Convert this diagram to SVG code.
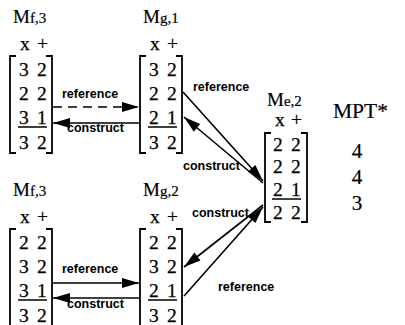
<svg xmlns="http://www.w3.org/2000/svg" width="405" height="325" viewBox="0 0 405 325">
<style>
.bk{fill:none;stroke:#000;stroke-width:1.8}
.num{font-family:"Liberation Serif","Times New Roman",serif;font-size:19.5px;fill:#000;stroke:#000;stroke-width:0.25}
.lab{font-family:"Liberation Serif","Times New Roman",serif;fill:#000;stroke:#000;stroke-width:0.2}
.ul{stroke:#000;stroke-width:1.5}
.arr{stroke:#000;stroke-width:1.6;fill:none;marker-end:url(#ah)}
.dash{stroke-dasharray:9,6}
.cap{font-family:"Liberation Sans",Arial,sans-serif;font-size:12.5px;font-weight:bold;fill:#000}
</style>
<defs>
<marker id="ah" markerUnits="userSpaceOnUse" markerWidth="19" markerHeight="11" refX="17" refY="5" orient="auto" overflow="visible">
<path d="M0,0 L17,5 L0,10 Z" fill="#000"/>
</marker>
</defs>
<rect width="405" height="325" fill="#fff"/>

<g id="mf3-top" transform="translate(10,56)">
<text class="lab" x="3" y="-33"><tspan font-size="19">M</tspan><tspan font-size="15">f,3</tspan></text>
<text class="num" x="10 27" y="-6">x+</text>
<path class="bk" d="M6,0 H0 V97 H6 M36,0 H42 V97 H36"/>
<text class="num" x="9 27" y="20">32</text>
<text class="num" x="9 27" y="44">22</text>
<text class="num" x="9 27" y="68">31</text>
<line class="ul" x1="8" y1="71" x2="37" y2="71"/>
<text class="num" x="9 27" y="93">32</text>
</g>

<g id="mg1" transform="translate(140,56)">
<text class="lab" x="3" y="-33"><tspan font-size="19">M</tspan><tspan font-size="15">g,1</tspan></text>
<text class="num" x="10 27" y="-6">x+</text>
<path class="bk" d="M6,0 H0 V97 H6 M36,0 H42 V97 H36"/>
<text class="num" x="9 27" y="20">32</text>
<text class="num" x="9 27" y="44">22</text>
<text class="num" x="9 27" y="68">21</text>
<line class="ul" x1="8" y1="71" x2="37" y2="71"/>
<text class="num" x="9 27" y="93">32</text>
</g>

<g id="mf3-bottom" transform="translate(10,229)">
<text class="lab" x="3" y="-33"><tspan font-size="19">M</tspan><tspan font-size="15">f,3</tspan></text>
<text class="num" x="10 27" y="-6">x+</text>
<path class="bk" d="M6,0 H0 V97 H6 M36,0 H42 V97 H36"/>
<text class="num" x="9 27" y="20">22</text>
<text class="num" x="9 27" y="44">32</text>
<text class="num" x="9 27" y="68">31</text>
<line class="ul" x1="8" y1="71" x2="37" y2="71"/>
<text class="num" x="9 27" y="93">32</text>
</g>

<g id="mg2" transform="translate(140,229)">
<text class="lab" x="3" y="-33"><tspan font-size="19">M</tspan><tspan font-size="15">g,2</tspan></text>
<text class="num" x="10 27" y="-6">x+</text>
<path class="bk" d="M6,0 H0 V97 H6 M36,0 H42 V97 H36"/>
<text class="num" x="9 27" y="20">22</text>
<text class="num" x="9 27" y="44">32</text>
<text class="num" x="9 27" y="68">21</text>
<line class="ul" x1="8" y1="71" x2="37" y2="71"/>
<text class="num" x="9 27" y="93">32</text>
</g>

<g id="me2" transform="translate(265,133)">
<text class="lab" x="2" y="-27"><tspan font-size="19">M</tspan><tspan font-size="15">e,2</tspan></text>
<text class="num" x="10 26" y="-7">x+</text>
<path class="bk" d="M6,0 H0 V89 H6 M36,0 H42 V89 H36"/>
<text class="num" x="8 26" y="18">22</text>
<text class="num" x="8 26" y="40">22</text>
<text class="num" x="8 26" y="63">21</text>
<line class="ul" x1="7" y1="66" x2="36" y2="66"/>
<text class="num" x="8 26" y="86">22</text>
</g>

<g id="mpt">
<text class="lab" font-size="21.5" x="333" y="118">MPT*</text>
<text class="lab" font-size="21" x="357" y="158" text-anchor="middle">4</text>
<text class="lab" font-size="21" x="357" y="184" text-anchor="middle">4</text>
<text class="lab" font-size="21" x="357" y="210" text-anchor="middle">3</text>
</g>

<g id="connectors">
<line class="arr dash" x1="53" y1="107" x2="139" y2="107"/>
<line class="arr" x1="139" y1="123" x2="53" y2="123"/>
<text class="cap" x="62" y="98">reference</text>
<text class="cap" x="67" y="132">construct</text>

<line class="arr" x1="53" y1="283" x2="139" y2="283"/>
<line class="arr" x1="139" y1="298" x2="53" y2="298"/>
<text class="cap" x="62" y="273">reference</text>
<text class="cap" x="67" y="308">construct</text>

<line class="arr" x1="183" y1="92" x2="263" y2="181"/>
<line class="arr" x1="263" y1="183" x2="184" y2="117"/>
<text class="cap" x="193" y="91">reference</text>
<text class="cap" x="183" y="170">construct</text>

<line class="arr" x1="263" y1="205" x2="184" y2="267"/>
<line class="arr" x1="184" y1="296" x2="263" y2="207"/>
<text class="cap" x="192" y="217">construct</text>
<text class="cap" x="218" y="291">reference</text>
</g>
</svg>
